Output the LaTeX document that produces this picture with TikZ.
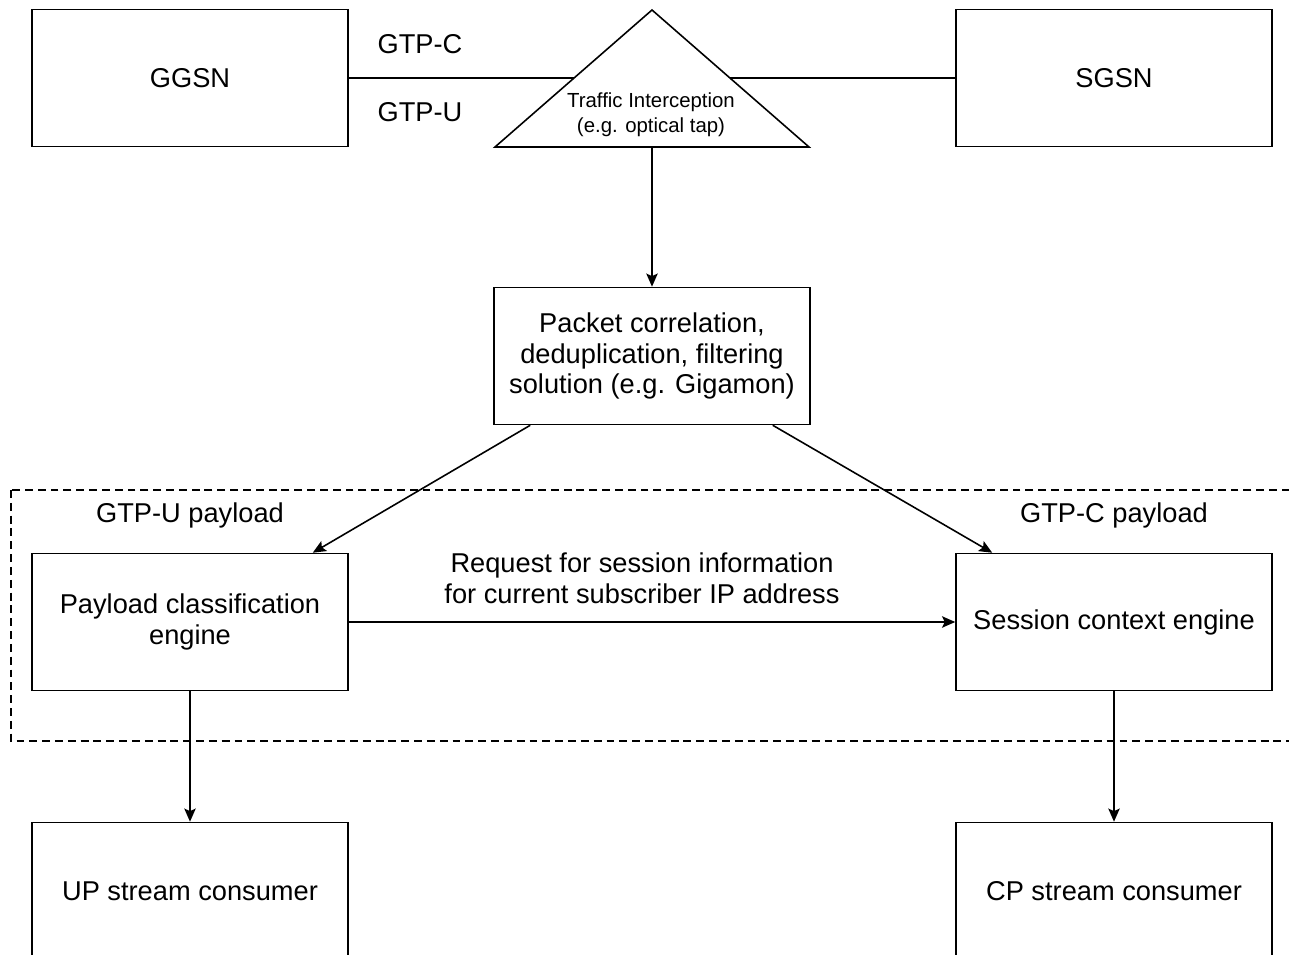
\documentclass[tikz,border=0pt]{standalone}
\usepackage{fontspec}
\setmainfont{Liberation Sans}
\usetikzlibrary{arrows.meta}
\tikzset{
  box/.style={draw, line width=0.9pt, fill=white, minimum width=6.32cm, minimum height=2.74cm,
    inner sep=0pt, align=center, font=\fontsize{15.5}{17.6}\selectfont},
  lbl/.style={align=center, font=\fontsize{15.5}{17.6}\selectfont},
  conn/.style={line width=0.9pt, -{Stealth[length=7.5pt,width=6.5pt,inset=1.5pt]}},
}
\begin{document}
\begin{tikzpicture}[x=0.02cm, y=-0.02cm]
	  \useasboundingbox (0,0) rectangle (1289,955);
	  % group of the two engines
	  \draw[line width=0.9pt, dash pattern=on 4.5pt off 2.8pt] (11,490) rectangle (1310,741);

	  \node[box] (ggsn) at (190,78) {GGSN};
	  \node[box] (sgsn) at (1114,78) {SGSN};
	  \draw[line width=0.9pt] (ggsn) -- (sgsn);
	  \node[lbl] (gtpc) at (420,44) {GTP-C};
	  \node[lbl] (gtpu) at (420,112) {GTP-U};

	  % tap
	  \filldraw[line width=0.9pt, fill=white] (495,147) -- (652,10) -- (809,147) -- cycle;
	  \coordinate (tapbase) at (652,147);
	  \node[align=center, font=\fontsize{11.6}{14.2}\selectfont] (tap) at (651,115)
	    {Traffic Interception\\(e.g. optical tap)};

	  \node[box] (corr) at (652,356) {Packet correlation,\\deduplication, filtering\\solution (e.g. Gigamon)};
	  \draw[conn] (tapbase) -- (corr);

	  \node[lbl] (upl) at (190,515) {GTP-U payload};
	  \node[lbl] (cpl) at (1114,515) {GTP-C payload};
	  \node[box] (classify) at (190,622) {Payload classification\\engine};
	  \node[box] (session) at (1114,622) {Session context engine};

	  \draw[conn] ([xshift=0.74cm]corr.south west) -- ([xshift=-0.72cm]classify.north east);
	  \draw[conn] ([xshift=-0.76cm]corr.south east) -- ([xshift=0.74cm]session.north west);
	  \draw[conn] (classify) -- (session);
	  \node[lbl] (req) at (642,578) {Request for session information\\for current subscriber IP address};

	  \node[box] (upc) at (190,891) {UP stream consumer};
	  \node[box] (cpc) at (1114,891) {CP stream consumer};
	  \draw[conn] (classify) -- (upc);
	  \draw[conn] (session) -- (cpc);
\end{tikzpicture}
\end{document}
